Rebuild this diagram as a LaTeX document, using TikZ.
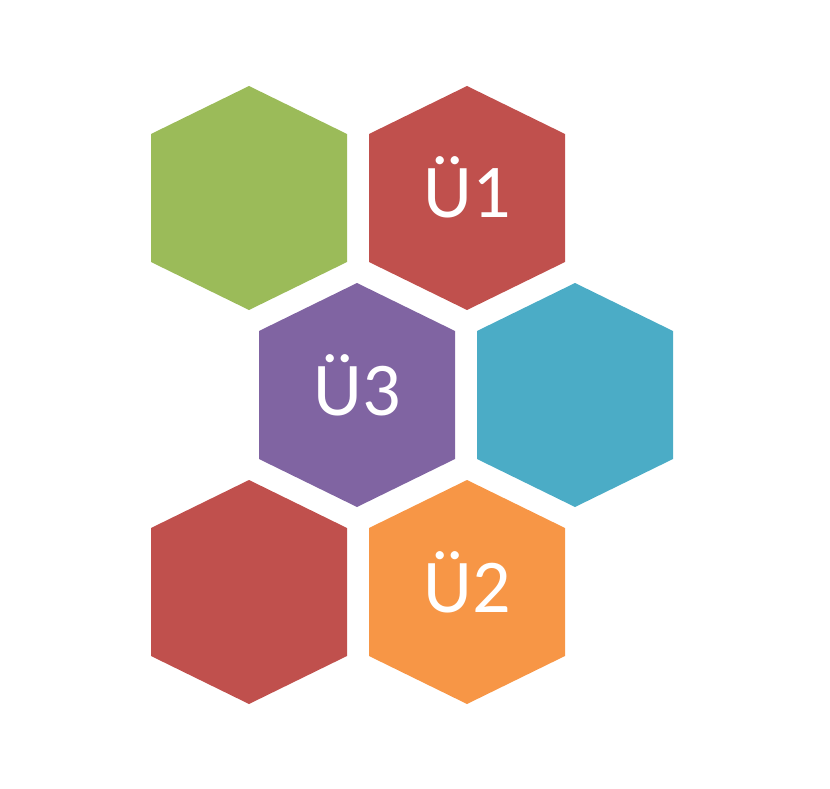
\documentclass[tikz,border=0pt]{standalone}
\usepackage{fontspec}
\setmainfont{Carlito}
\definecolor{hgreen}{HTML}{9BBB59}
\definecolor{hred}{HTML}{C0504D}
\definecolor{hpurple}{HTML}{8064A2}
\definecolor{haqua}{HTML}{4BACC6}
\definecolor{horange}{HTML}{F79646}
\tikzset{
  hexlabel/.style={text=white, font=\fontsize{76}{90}\selectfont, anchor=base, inner sep=0pt}
}
\newcommand{\hexfill}[3]{%
  \fill[#1] (#2,#3-112) -- (#2+98,#3-64) -- (#2+98,#3+64) -- (#2,#3+112)
    -- (#2-98,#3+64) -- (#2-98,#3-64) -- cycle;}
\begin{document}
\begin{tikzpicture}[x=1pt,y=-1pt]
\useasboundingbox (0,0) rectangle (830,789);
\hexfill{hgreen}{249}{198}
\hexfill{hred}{467}{198}
\hexfill{hpurple}{357}{395}
\hexfill{haqua}{575}{395}
\hexfill{hred}{249}{592}
\hexfill{horange}{467}{592}
\node[hexlabel] (u1) at (467,217) {Ü1};
\node[hexlabel] (u3) at (357,415) {Ü3};
\node[hexlabel] (u2) at (467,612) {Ü2};
\end{tikzpicture}
\end{document}
